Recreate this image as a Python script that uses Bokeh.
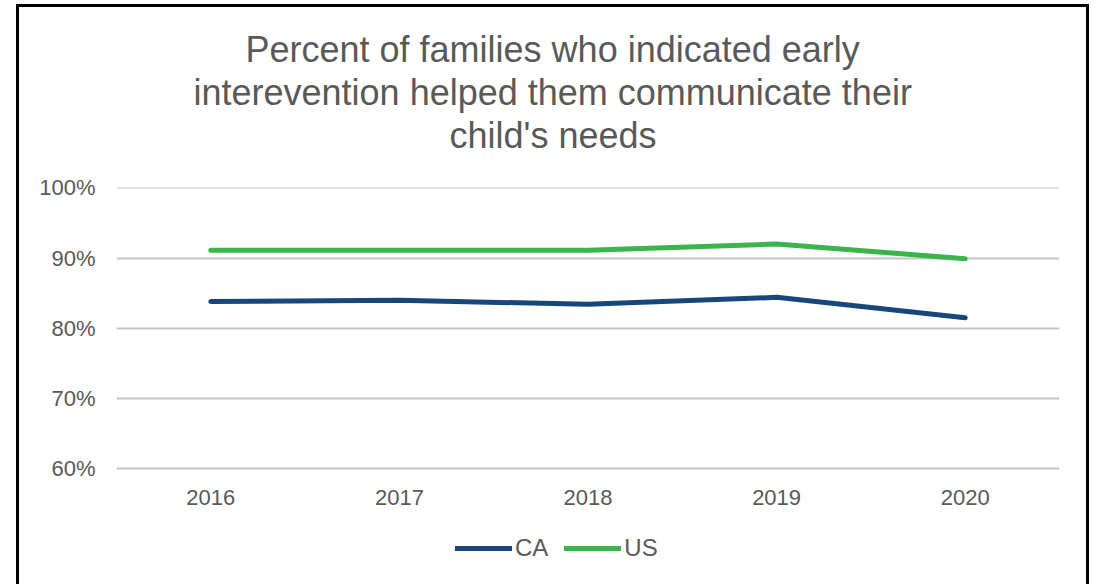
from bokeh.plotting import figure
from bokeh.models import Range1d, FactorRange, NumeralTickFormatter, FixedTicker, Legend, LegendItem, Title
from bokeh.embed import file_html
from bokeh.resources import INLINE

years = ["2016", "2017", "2018", "2019", "2020"]
ca_values = [0.838, 0.840, 0.834, 0.844, 0.815]
us_values = [0.911, 0.911, 0.911, 0.920, 0.899]
y_ticks = [0.6, 0.7, 0.8, 0.9, 1.0]
title_lines = ["Percent of families who indicated early",
               "interevention helped them communicate their",
               "child's needs"]
title_offsets = [129, 77, 333]   # left offsets so every line is centred on the chart area

FONT = "Liberation Sans"
GREY = "#595959"

# frame reaches the bottom of the chart so the legend (drawn in the frame) is not clipped;
# 60%..100% occupies the upper part, matching the reference
p = figure(width=1073, height=580, x_range=FactorRange(*years, range_padding=0),
           y_range=Range1d(0.4349, 1.0005), output_backend="svg", toolbar_location=None,
           min_border_left=100, min_border_right=30, min_border_top=183, min_border_bottom=0)
p.margin = (4, 0, 0, 16)
p.styles = {"box-shadow": "inset 3px 3px 0 0 #000, inset -3px 0 0 0 #000"}
p.border_fill_color = None
p.background_fill_color = None
p.outline_line_color = None

# spacer nearest the frame, then the title lines bottom-up
p.add_layout(Title(text=" ", text_font=FONT, text_font_size="26px", standoff=0), "above")
for line, off in zip(reversed(title_lines), reversed(title_offsets)):
    t = Title(text=line, align="left", offset=off, text_font=FONT, text_font_size="36px",
              text_font_style="normal", text_color=GREY, standoff=0)
    p.add_layout(t, "above")

p.xgrid.grid_line_color = None
p.ygrid.grid_line_color = "#C6C6C6"
p.ygrid.grid_line_width = 2

p.yaxis.ticker = FixedTicker(ticks=y_ticks)
p.yaxis.formatter = NumeralTickFormatter(format="0%")
p.xaxis.fixed_location = 0.6
for ax in (p.xaxis[0], p.yaxis[0]):
    ax.axis_line_color = None
    ax.major_tick_line_color = None
    ax.minor_tick_line_color = None
    ax.major_label_text_font = FONT
    ax.major_label_text_font_size = "22px"
    ax.major_label_text_color = GREY
p.yaxis.major_label_standoff = 15
p.xaxis.major_label_standoff = 15

r_ca = p.line(years, ca_values, line_color="#17477A", line_width=5, line_cap="round", line_join="round")
r_us = p.line(years, us_values, line_color="#3BB54A", line_width=5, line_cap="round", line_join="round")

legend = Legend(items=[LegendItem(label="CA", renderers=[r_ca]), LegendItem(label="US", renderers=[r_us])],
                orientation="horizontal", location=(339, 22), background_fill_alpha=0,
                border_line_color=None, label_text_font=FONT, label_text_font_size="24px",
                label_text_color=GREY, glyph_width=57, label_standoff=3, spacing=16, padding=0, margin=0)
p.add_layout(legend, "center")

open("out.html", "w").write(file_html(p, INLINE))
